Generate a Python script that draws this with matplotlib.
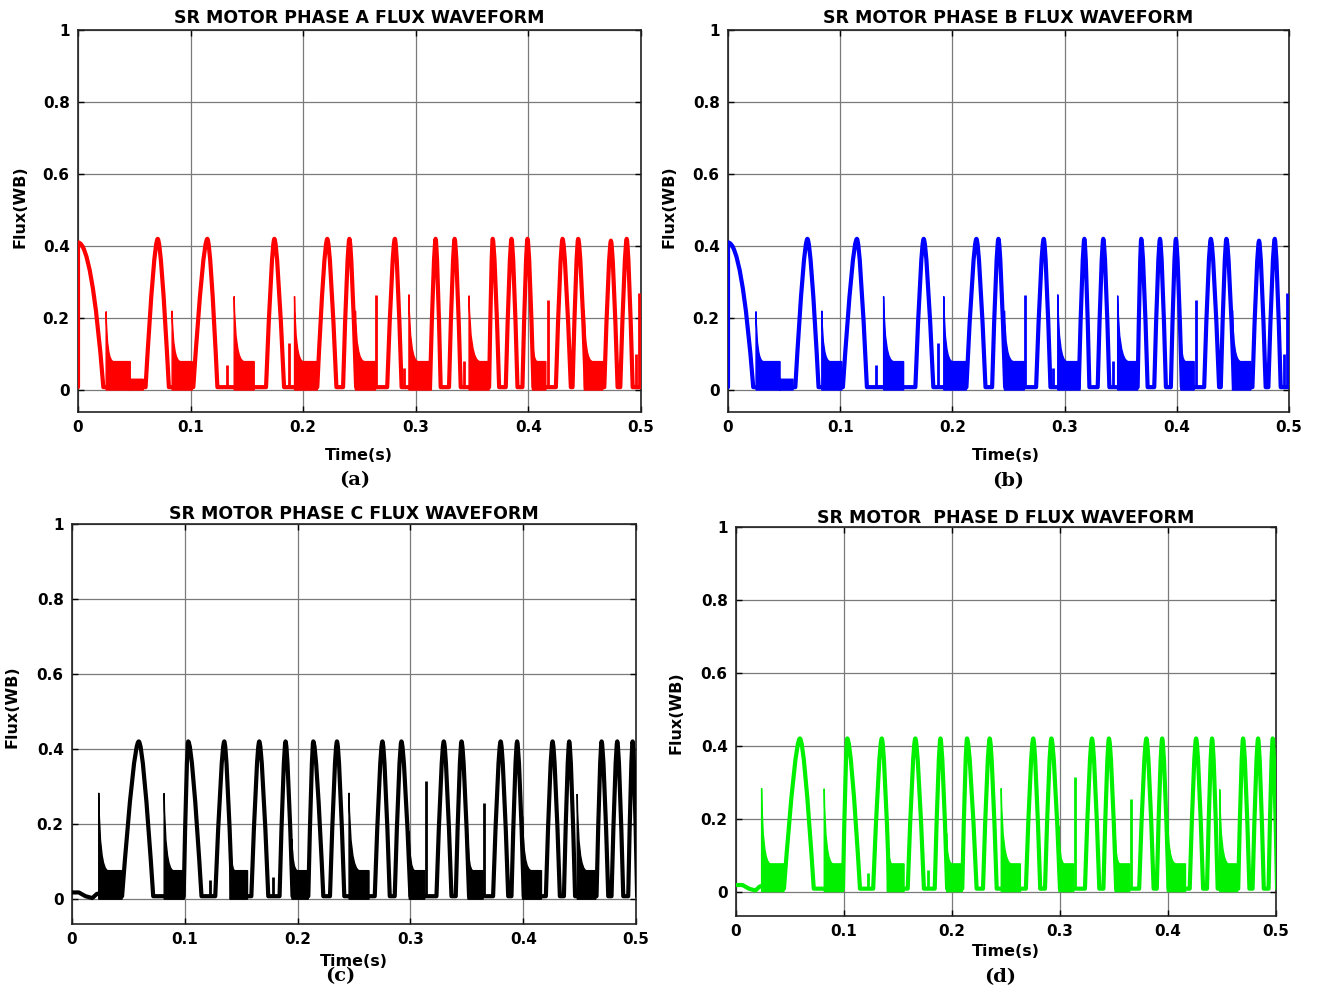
import matplotlib
matplotlib.use('Agg')
import matplotlib.pyplot as plt
from matplotlib.path import Path
from matplotlib.patches import PathPatch

# ---- values (time in s, flux in Wb) ----
# phases A and B show the same trace, phases C and D too

# humps: start of rise, peak, end of fall, peak height
ab_rise = [0.000, 0.0600, 0.1024, 0.1670, 0.2125, 0.2354, 0.2746, 0.3126,
           0.3295, 0.3651, 0.3799, 0.3947, 0.4244, 0.4392, 0.4674, 0.4816]
ab_peak = [0.000, 0.0708, 0.1149, 0.1744, 0.2214, 0.2410, 0.2814, 0.3176,
           0.3345, 0.3683, 0.3850, 0.3992, 0.4303, 0.4442, 0.4733, 0.4873]
ab_fall = [0.0225, 0.0807, 0.1238, 0.1830, 0.2295, 0.2470, 0.2874, 0.3221,
           0.3399, 0.3740, 0.3903, 0.4045, 0.4377, 0.4510, 0.4792, 0.4926]
ab_height = [0.41, 0.42, 0.42, 0.42, 0.42, 0.42, 0.42, 0.42,
             0.42, 0.42, 0.42, 0.42, 0.42, 0.42, 0.415, 0.42]

# chattering bursts: start, height at start, where the envelope flattens, end, flat level
ab_burst_start = [0.0250, 0.0464, 0.0836, 0.1387, 0.1923, 0.2464, 0.2939, 0.3473, 0.4036, 0.4496]
ab_burst_top = [0.218, 0.030, 0.220, 0.260, 0.260, 0.220, 0.265, 0.262, 0.160, 0.222]
ab_burst_knee = [0.0315, 0.0470, 0.0910, 0.1476, 0.2000, 0.2545, 0.3020, 0.3570, 0.4080, 0.4570]
ab_burst_end = [0.0464, 0.0580, 0.1015, 0.1565, 0.2125, 0.2642, 0.3138, 0.3651, 0.4155, 0.4660]
ab_burst_level = [0.079, 0.030, 0.079, 0.079, 0.079, 0.079, 0.079, 0.079, 0.079, 0.079]

# isolated spikes
ab_spike_t = [0.1320, 0.1870, 0.2648, 0.2895, 0.3430, 0.4175, 0.4955, 0.4979, 0.4995]
ab_spike_h = [0.070, 0.130, 0.265, 0.060, 0.080, 0.250, 0.100, 0.270, 0.200]

cd_lead_t = [0.000, 0.006, 0.012, 0.018, 0.022, 0.0237]
cd_lead_f = [0.018, 0.018, 0.008, 0.003, 0.014, 0.015]

cd_rise = [0.0444, 0.0990, 0.1270, 0.1590, 0.1840, 0.2095, 0.2287, 0.2684, 0.2861,
           0.3231, 0.3402, 0.3733, 0.3896, 0.4201, 0.4361, 0.4650, 0.4783, 0.4931]
cd_peak = [0.0592, 0.1030, 0.1350, 0.1660, 0.1893, 0.2139, 0.2349, 0.2752, 0.2920,
           0.3296, 0.3453, 0.3800, 0.3946, 0.4260, 0.4408, 0.4695, 0.4834, 0.4970]
cd_fall = [0.0720, 0.1148, 0.1420, 0.1740, 0.1955, 0.2228, 0.2414, 0.2817, 0.3000,
           0.3364, 0.3520, 0.3867, 0.4005, 0.4325, 0.4460, 0.4754, 0.4887, 0.5010]
cd_height = [0.42] * 18

cd_burst_start = [0.0237, 0.0817, 0.1400, 0.1950, 0.2456, 0.2990, 0.3510, 0.3994, 0.4479]
cd_burst_top = [0.283, 0.282, 0.200, 0.160, 0.283, 0.180, 0.170, 0.220, 0.280]
cd_burst_knee = [0.0320, 0.0900, 0.1444, 0.2000, 0.2550, 0.3040, 0.3556, 0.4073, 0.4562]
cd_burst_end = [0.0444, 0.0995, 0.1556, 0.2095, 0.2633, 0.3127, 0.3645, 0.4162, 0.4644]
cd_burst_level = [0.076] * 9

cd_spike_t = [0.1225, 0.1780, 0.3136, 0.3654]
cd_spike_h = [0.050, 0.060, 0.315, 0.255]

titles = ['SR MOTOR PHASE A FLUX WAVEFORM', 'SR MOTOR PHASE B FLUX WAVEFORM',
          'SR MOTOR PHASE C FLUX WAVEFORM', 'SR MOTOR  PHASE D FLUX WAVEFORM']
captions = ['(a)', '(b)', '(c)', '(d)']
colors = ['#ff0000', '#0000ff', '#000000', '#00f000']
x_ticks = [0, 0.1, 0.2, 0.3, 0.4, 0.5]
x_tick_labels = ['0', '0.1', '0.2', '0.3', '0.4', '0.5']
y_ticks = [0, 0.2, 0.4, 0.6, 0.8, 1]
y_tick_labels = ['0', '0.2', '0.4', '0.6', '0.8', '1']

W, H = 1317, 992
# axes boxes in pixels: left, top, right, bottom ; lower y limit
boxes = [(78, 30, 641, 412), (728, 30, 1289, 412), (72, 523.5, 636, 924), (736, 527, 1276, 916)]
y_lows = [-0.061, -0.061, -0.066, -0.067]
xlabel_pos = [(359, 456), (1006, 455), (354, 962), (1006, 952)]
ylabel_pos = [(20, 207), (669, 207), (12, 707), (676, 713)]
caption_pos = [(355, 480), (1008, 481), (340, 976), (1000, 977)]
title_pads = [5, 5, 3, 3]


def trace_path(rise, peak, fall, height, lead_t=None, lead_f=None, base=0.008):
    verts, codes = [], []
    if lead_t is not None:
        for t, f in zip(lead_t, lead_f):
            verts.append((t, f))
            codes.append(Path.LINETO if codes else Path.MOVETO)
    for r, p, f, h in zip(rise, peak, fall, height):
        # the decay at t=0 is much rounder than the later humps
        k = 0.55 if r == p else 0.3
        verts.append((r, base))
        codes.append(Path.LINETO if codes else Path.MOVETO)
        verts += [(p - k * (p - r), h), (p, h), (p + k * (f - p), h), (f, base)]
        codes += [Path.CURVE3] * 4
    if fall[-1] < 0.5:
        verts.append((0.5, base))
        codes.append(Path.LINETO)
    return Path(verts, codes)


def burst_path(start, top, knee, end, level):
    verts, codes = [], []
    for t0, h0, tk, te, hf in zip(start, top, knee, end, level):
        verts += [(t0, 0.0), (t0, h0), (t0 + 0.1 * (tk - t0), hf), (tk, hf),
                  (te, hf), (te, 0.0), (t0, 0.0)]
        codes += [Path.MOVETO, Path.LINETO, Path.CURVE3, Path.CURVE3,
                  Path.LINETO, Path.LINETO, Path.CLOSEPOLY]
    return Path(verts, codes)


ab = dict(trace=trace_path(ab_rise, ab_peak, ab_fall, ab_height),
          burst=burst_path(ab_burst_start, ab_burst_top, ab_burst_knee, ab_burst_end, ab_burst_level),
          spike_t=ab_spike_t, spike_h=ab_spike_h)
cd = dict(trace=trace_path(cd_rise, cd_peak, cd_fall, cd_height, cd_lead_t, cd_lead_f),
          burst=burst_path(cd_burst_start, cd_burst_top, cd_burst_knee, cd_burst_end, cd_burst_level),
          spike_t=cd_spike_t, spike_h=cd_spike_h)
phases = [ab, ab, cd, cd]

fig = plt.figure(figsize=(W / 100, H / 100), dpi=100)
plt.rcParams['font.family'] = 'DejaVu Sans'

for i in range(4):
    l, t, r, b = boxes[i]
    ax = fig.add_axes([l / W, 1 - b / H, (r - l) / W, (b - t) / H])
    c = colors[i]
    ph = phases[i]

    ax.add_patch(PathPatch(ph['burst'], facecolor=c, edgecolor=c, lw=1.0, zorder=3))
    ax.add_patch(PathPatch(ph['trace'], facecolor='none', edgecolor=c, lw=3.0,
                           joinstyle='round', capstyle='round', zorder=4))
    ax.vlines(ph['spike_t'], 0.008, ph['spike_h'], colors=c, lw=2.0, zorder=4)

    ax.set_xlim(0, 0.5)
    ax.set_ylim(y_lows[i], 1)
    ax.set_xticks(x_ticks)
    ax.set_xticklabels(x_tick_labels)
    ax.set_yticks(y_ticks)
    ax.set_yticklabels(y_tick_labels)
    ax.tick_params(direction='in', length=4, width=1, top=True, right=True,
                   labelsize=11, pad=6)
    for lab in ax.get_xticklabels() + ax.get_yticklabels():
        lab.set_fontweight('bold')
    ax.grid(True, color='#7a7a7a', lw=0.9)
    ax.set_axisbelow(True)
    for s in ax.spines.values():
        s.set_linewidth(1.2)
        s.set_color('#222222')
    ax.set_title(titles[i], fontsize=12.5, fontweight='bold', pad=title_pads[i])

    x, y = xlabel_pos[i]
    fig.text(x / W, 1 - y / H, 'Time(s)', fontsize=11.5, fontweight='bold', ha='center', va='center')
    x, y = ylabel_pos[i]
    fig.text(x / W, 1 - y / H, 'Flux(WB)', fontsize=11.5, fontweight='bold', rotation=90,
             ha='center', va='center')
    x, y = caption_pos[i]
    fig.text(x / W, 1 - y / H, captions[i], fontsize=14, fontweight='bold', family='DejaVu Serif',
             ha='center', va='center')

fig.savefig('out.png', dpi=100)
